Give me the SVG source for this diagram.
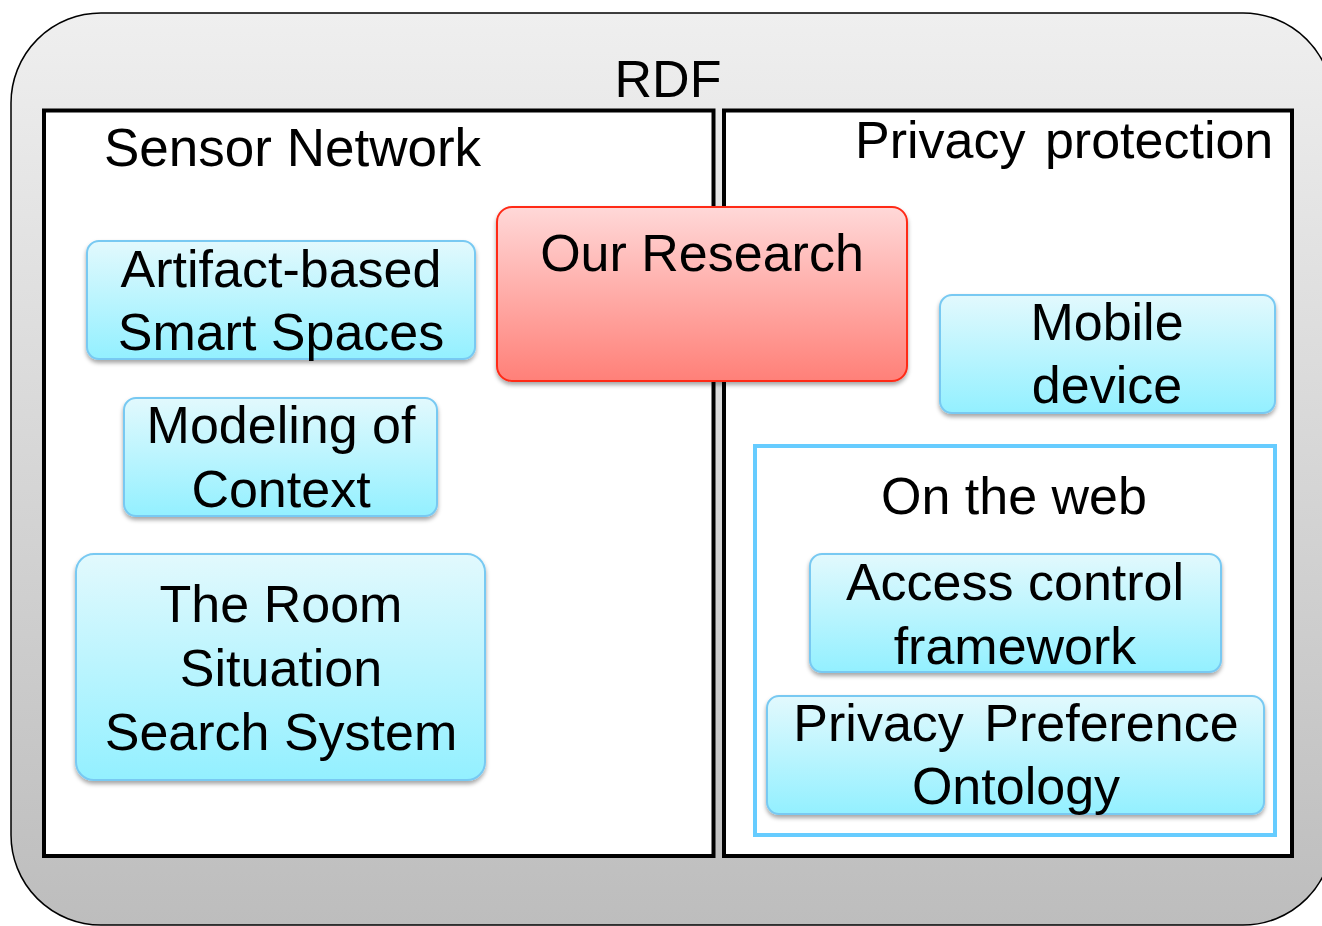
<svg xmlns="http://www.w3.org/2000/svg" width="1322" height="926" viewBox="0 0 1322 926">
  <defs>
    <linearGradient id="gOuter" x1="0" y1="0" x2="0" y2="1">
      <stop offset="0" stop-color="#efefef"/>
      <stop offset="1" stop-color="#bdbdbd"/>
    </linearGradient>
    <linearGradient id="gBlue" x1="0" y1="0" x2="0" y2="1">
      <stop offset="0" stop-color="#e2f9fd"/>
      <stop offset="1" stop-color="#93f0ff"/>
    </linearGradient>
    <linearGradient id="gRed" x1="0" y1="0" x2="0" y2="1">
      <stop offset="0" stop-color="#ffd8d8"/>
      <stop offset="1" stop-color="#ff8078"/>
    </linearGradient>
    <filter id="shadow" x="-10%" y="-10%" width="120%" height="130%">
      <feDropShadow dx="0" dy="3" stdDeviation="2" flood-color="#000" flood-opacity="0.35"/>
    </filter>
  </defs>
  <style>
    text { font-family: "Liberation Sans", Arial, sans-serif; font-size: 52px; fill: #000; }
    .mid { text-anchor: middle; }
    .panel { fill: #fff; stroke: #000; stroke-width: 4; }
    .topic { fill: url(#gBlue); stroke: #78c9f2; stroke-width: 2; filter: url(#shadow); }
    .focus { fill: url(#gRed); stroke: #ff2a18; stroke-width: 2; filter: url(#shadow); }
    .web { fill: #fff; stroke: #66ccff; stroke-width: 4; }
  </style>

  <!-- RDF container -->
  <g id="rdf">
    <rect x="11" y="13" width="1322" height="912" rx="90" ry="90" fill="url(#gOuter)" stroke="#000" stroke-width="1.5"/>
    <text class="mid" x="668" y="97">RDF</text>
  </g>

  <!-- Sensor Network panel -->
  <g id="sensor-network">
    <rect class="panel" x="44" y="110.5" width="669.5" height="745.5"/>
    <text x="104" y="166" style="font-size:53px">Sensor Network</text>
  </g>

  <!-- Privacy protection panel -->
  <g id="privacy-protection">
    <rect class="panel" x="724" y="110.5" width="568" height="745.5"/>
    <text x="855" y="158" word-spacing="5">Privacy protection</text>
  </g>

  <!-- Topics under Sensor Network -->
  <g id="artifact-based">
    <rect class="topic" x="87" y="241" width="388" height="118" rx="12"/>
    <text class="mid" x="281" y="287">Artifact-based</text>
    <text class="mid" x="281" y="350">Smart Spaces</text>
  </g>

  <g id="modeling-context">
    <rect class="topic" x="124" y="398" width="313" height="118" rx="12"/>
    <text class="mid" x="281" y="443">Modeling of</text>
    <text class="mid" x="281" y="507">Context</text>
  </g>

  <g id="room-situation">
    <rect class="topic" x="76" y="554" width="409" height="226" rx="18"/>
    <text class="mid" x="281" y="622">The Room</text>
    <text class="mid" x="281" y="686">Situation</text>
    <text class="mid" x="281" y="750">Search System</text>
  </g>

  <!-- Topics under Privacy protection -->
  <g id="mobile-device">
    <rect class="topic" x="940" y="295" width="335" height="118" rx="12"/>
    <text class="mid" x="1107" y="340">Mobile</text>
    <text class="mid" x="1107" y="403">device</text>
  </g>

  <g id="on-the-web">
    <rect class="web" x="755" y="446" width="520" height="389"/>
    <text class="mid" x="1014" y="514">On the web</text>
  </g>

  <g id="access-control">
    <rect class="topic" x="810" y="554" width="411" height="118" rx="12"/>
    <text class="mid" x="1015" y="600">Access control</text>
    <text class="mid" x="1015" y="664">framework</text>
  </g>

  <g id="privacy-preference">
    <rect class="topic" x="767" y="696" width="497" height="118" rx="12"/>
    <text class="mid" x="1016" y="741" word-spacing="6">Privacy Preference</text>
    <text class="mid" x="1016" y="804">Ontology</text>
  </g>

  <!-- Our Research, spanning both panels -->
  <g id="our-research">
    <rect class="focus" x="497" y="207" width="410" height="174" rx="15"/>
    <text class="mid" x="702" y="271">Our Research</text>
  </g>

  <!-- no connectors in this diagram -->
  <g id="connectors"/>
</svg>
